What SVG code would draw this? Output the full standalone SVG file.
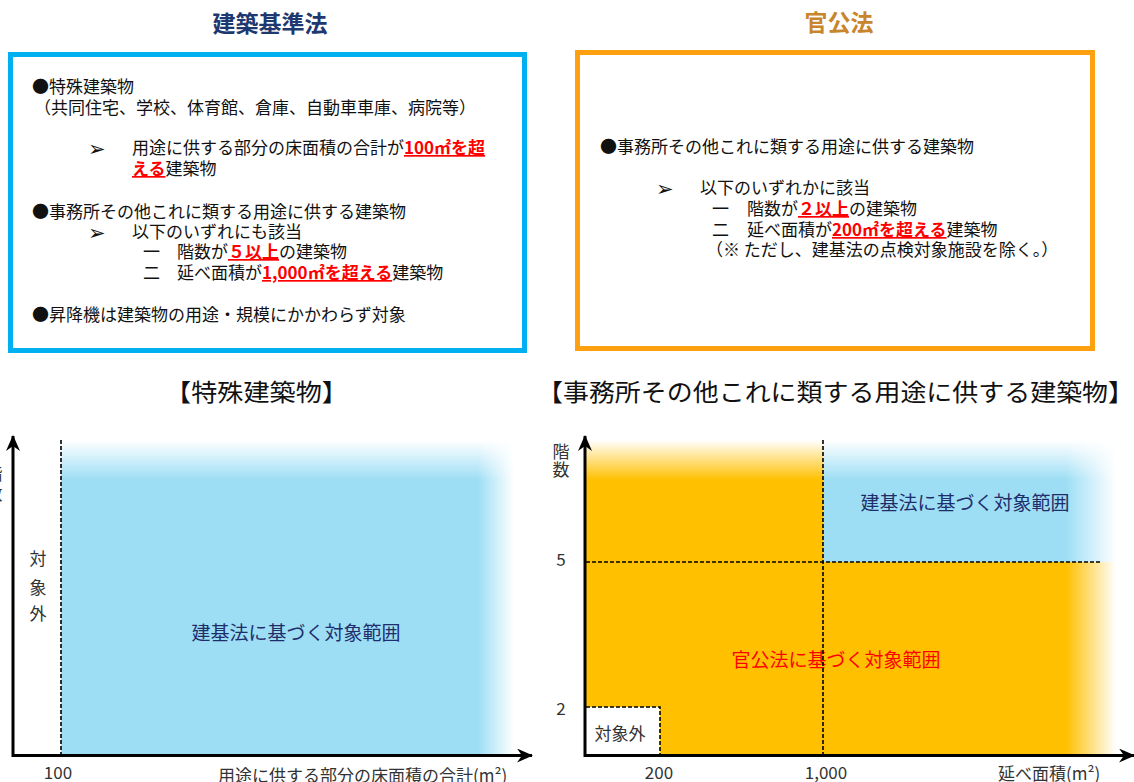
<svg xmlns="http://www.w3.org/2000/svg" width="1134" height="782" viewBox="0 0 1134 782">
<style>
.t{font-family:"Noto Sans CJK JP","Noto Sans",sans-serif;font-size:17px;fill:#111}
.red{font-weight:bold;fill:#ff0000;text-decoration:underline}
.arr{font-family:"DejaVu Sans",sans-serif;font-size:21px;fill:#111}
.head{font-family:"Noto Sans CJK JP",sans-serif;font-weight:bold;font-size:23px;text-anchor:middle}
.ct{font-family:"Noto Sans CJK JP",sans-serif;font-size:24px;fill:#111}
.lab{font-family:"Noto Sans CJK JP",sans-serif;font-size:17px;fill:#333}
.area{font-family:"Noto Sans CJK JP",sans-serif;font-size:19px;text-anchor:middle}
.axis{stroke:#000;stroke-width:3;fill:none;marker-end:url(#ah)}
.dash{stroke:#000;stroke-width:1.6;stroke-dasharray:4 2;fill:none}
</style>
<defs>
<marker id="ah" markerUnits="userSpaceOnUse" viewBox="0 0 16 14" markerWidth="16" markerHeight="14" refX="15" refY="7" orient="auto">
<path d="M0,0 L16,7 L0,14 L5,7 z" fill="#000"/>
</marker>
<linearGradient id="gLy" gradientUnits="userSpaceOnUse" x1="0" y1="440" x2="0" y2="480"><stop offset="0" stop-color="#000"/><stop offset="1" stop-color="#fff"/></linearGradient>
<linearGradient id="gLx" gradientUnits="userSpaceOnUse" x1="478" y1="0" x2="514" y2="0"><stop offset="0" stop-color="#fff"/><stop offset="1" stop-color="#000"/></linearGradient>
<linearGradient id="gRx" gradientUnits="userSpaceOnUse" x1="1066" y1="0" x2="1116" y2="0"><stop offset="0" stop-color="#fff"/><stop offset="1" stop-color="#000"/></linearGradient>
<mask id="mLy" maskUnits="userSpaceOnUse" x="0" y="0" width="1134" height="782"><rect x="0" y="0" width="1134" height="782" fill="url(#gLy)"/></mask>
<mask id="mLx" maskUnits="userSpaceOnUse" x="0" y="0" width="1134" height="782"><rect x="0" y="0" width="1134" height="782" fill="url(#gLx)"/></mask>
<mask id="mRx" maskUnits="userSpaceOnUse" x="0" y="0" width="1134" height="782"><rect x="0" y="0" width="1134" height="782" fill="url(#gRx)"/></mask>
</defs>
<rect width="1134" height="782" fill="#fff"/>

<g id="kenchiku-box">
<text class="head" x="270" y="32" fill="#203870">建築基準法</text>
<rect x="10.5" y="54.5" width="514" height="296" fill="#fff" stroke="#00b0f0" stroke-width="5"/>
<text class="t" x="32" y="93">●特殊建築物</text>
<text class="t" x="34" y="114">（共同住宅、学校、体育館、倉庫、自動車車庫、病院等）</text>
<text class="arr" x="88" y="156">➢</text>
<text class="t" x="132" y="154">用途に供する部分の床面積の合計が<tspan class="red">100㎡を超</tspan></text>
<text class="t" x="132" y="175"><tspan class="red">える</tspan>建築物</text>
<text class="t" x="32" y="218">●事務所その他これに類する用途に供する建築物</text>
<text class="arr" x="88" y="240">➢</text>
<text class="t" x="132" y="238">以下のいずれにも該当</text>
<text class="t" x="143" y="258">一</text>
<text class="t" x="177" y="258">階数が<tspan class="red">５以上</tspan>の建築物</text>
<text class="t" x="143" y="279">二</text>
<text class="t" x="177" y="279">延べ面積が<tspan class="red">1,000㎡を超える</tspan>建築物</text>
<text class="t" x="32" y="321">●昇降機は建築物の用途・規模にかかわらず対象</text>
</g>

<g id="kankouhou-box">
<text class="head" x="839" y="31" fill="#c8852c">官公法</text>
<rect x="577.5" y="52.5" width="515" height="296" fill="#fff" stroke="#ffa010" stroke-width="5"/>
<text class="t" x="600" y="153">●事務所その他これに類する用途に供する建築物</text>
<text class="arr" x="656" y="196">➢</text>
<text class="t" x="700" y="194">以下のいずれかに該当</text>
<text class="t" x="712" y="215">一</text>
<text class="t" x="747" y="215">階数が<tspan class="red">２以上</tspan>の建築物</text>
<text class="t" x="712" y="236">二</text>
<text class="t" x="747" y="236">延べ面積が<tspan class="red">200㎡を超える</tspan>建築物</text>
<text class="t" x="706" y="256">（※ ただし、建基法の点検対象施設を除く。）</text>
</g>

<g id="chart-left">
<text class="ct" x="165" y="401" textLength="183" lengthAdjust="spacingAndGlyphs">【特殊建築物】</text>
<g mask="url(#mLx)"><rect x="61" y="438" width="455" height="318" fill="#9ddef5" mask="url(#mLy)"/></g>
<text class="lab" x="-6" y="480" text-anchor="middle" font-size="19">階</text>
<text class="lab" x="-6" y="500" text-anchor="middle" font-size="19">数</text>
<text class="lab" x="38" y="565" text-anchor="middle" font-size="19" fill="#222">対</text>
<text class="lab" x="38" y="594" text-anchor="middle" font-size="19" fill="#222">象</text>
<text class="lab" x="38" y="620" text-anchor="middle" font-size="19" fill="#222">外</text>
<text class="area" x="296" y="640" fill="#1f2d6b">建基法に基づく対象範囲</text>
<text class="lab" x="58" y="779" text-anchor="middle" font-size="16">100</text>
<text class="lab" x="218" y="782" font-size="17.5">用途に供する部分の床面積の合計(m²)</text>
</g>

<g id="chart-right">
<text class="ct" x="537" y="401" textLength="597" lengthAdjust="spacingAndGlyphs" font-size="25">【事務所その他これに類する用途に供する建築物】</text>
<g mask="url(#mRx)"><rect x="585" y="562" width="531" height="194" fill="#ffc000"/></g>
<rect x="585" y="438" width="238" height="124" fill="#ffc000" mask="url(#mLy)"/>
<g mask="url(#mRx)"><rect x="823" y="438" width="293" height="124" fill="#9ddef5" mask="url(#mLy)"/></g>
<rect x="585" y="707" width="75" height="49" fill="#fff"/>
<text class="lab" x="561" y="458" text-anchor="middle" font-size="17">階</text>
<text class="lab" x="561" y="476" text-anchor="middle" font-size="17">数</text>
<text class="lab" x="561" y="566" text-anchor="middle">5</text>
<text class="lab" x="561" y="715" text-anchor="middle">2</text>
<text class="lab" x="620" y="740" text-anchor="middle" font-size="19" fill="#111">対象外</text>
<text class="area" x="965" y="510" fill="#1f2d6b">建基法に基づく対象範囲</text>
<text class="area" x="836" y="667" fill="#ff0000">官公法に基づく対象範囲</text>
<text class="lab" x="659" y="779" text-anchor="middle" font-size="16">200</text>
<text class="lab" x="826" y="779" text-anchor="middle" font-size="16">1,000</text>
<text class="lab" x="998" y="780">延べ面積(m²)</text>
</g>

<g id="connectors">
<line class="dash" x1="61" y1="440" x2="61" y2="755"/>
<line class="dash" x1="823" y1="440" x2="823" y2="755"/>
<line class="dash" x1="586" y1="562" x2="1102" y2="562"/>
<polyline class="dash" points="586,707 660,707 660,755"/>
<line class="axis" x1="13" y1="757" x2="13" y2="436"/>
<line class="axis" x1="12" y1="755.5" x2="532" y2="755.5"/>
<line class="axis" x1="585" y1="757" x2="585" y2="436"/>
<line class="axis" x1="584" y1="755.5" x2="1134" y2="755.5"/>
</g>
</svg>
